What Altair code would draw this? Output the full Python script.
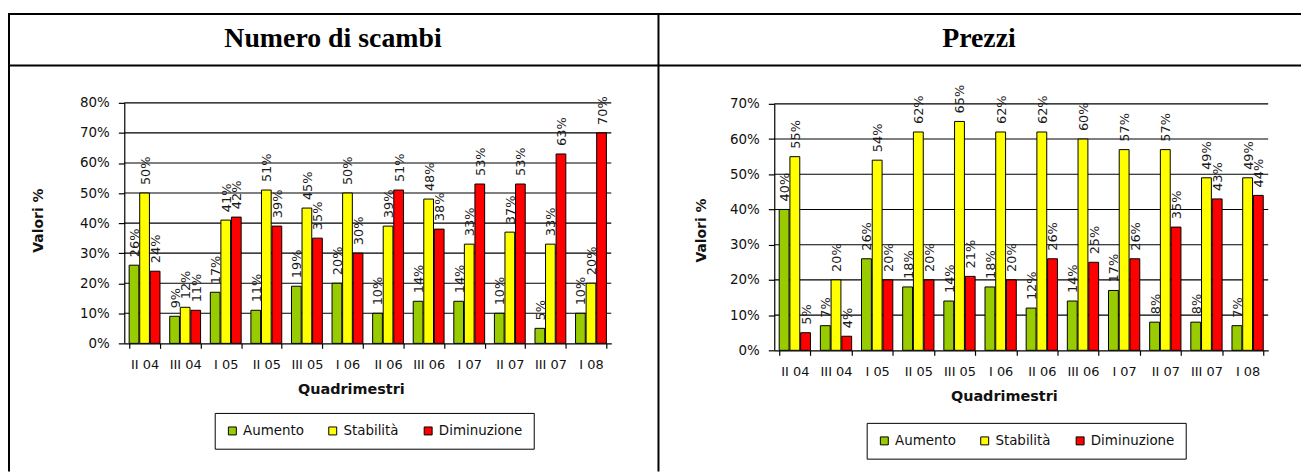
import altair as alt
import pandas as pd

# ---------------- data ----------------
categories = ["II 04", "III 04", "I 05", "II 05", "III 05", "I 06",
              "II 06", "III 06", "I 07", "II 07", "III 07", "I 08"]
series = ["Aumento", "Stabilità", "Diminuzione"]
colors = ["#99CC00", "#FFFF00", "#FF0000"]
panel_titles = ["Numero di scambi", "Prezzi"]
x_title = "Quadrimestri"
y_title = "Valori %"

scambi_aumento = [0.26, 0.09, 0.17, 0.11, 0.19, 0.20, 0.10, 0.14, 0.14, 0.10, 0.05, 0.10]
scambi_stabilita = [0.50, 0.12, 0.41, 0.51, 0.45, 0.50, 0.39, 0.48, 0.33, 0.37, 0.33, 0.20]
scambi_diminuzione = [0.24, 0.11, 0.42, 0.39, 0.35, 0.30, 0.51, 0.38, 0.53, 0.53, 0.63, 0.70]

prezzi_aumento = [0.40, 0.07, 0.26, 0.18, 0.14, 0.18, 0.12, 0.14, 0.17, 0.08, 0.08, 0.07]
prezzi_stabilita = [0.55, 0.20, 0.54, 0.62, 0.65, 0.62, 0.62, 0.60, 0.57, 0.57, 0.49, 0.49]
prezzi_diminuzione = [0.05, 0.04, 0.20, 0.20, 0.21, 0.20, 0.26, 0.25, 0.26, 0.35, 0.43, 0.44]

scambi_ticks = [0.0, 0.1, 0.2, 0.3, 0.4, 0.5, 0.6, 0.7, 0.8]
prezzi_ticks = [0.0, 0.1, 0.2, 0.3, 0.4, 0.5, 0.6, 0.7]


def to_long(a, s, d):
    rows = []
    for vals, name in zip([a, s, d], series):
        for c, v in zip(categories, vals):
            rows.append({"q": c, "serie": name, "v": v})
    return pd.DataFrame(rows)


df_scambi = to_long(scambi_aumento, scambi_stabilita, scambi_diminuzione)
df_prezzi = to_long(prezzi_aumento, prezzi_stabilita, prezzi_diminuzione)

# ---------------- layout ----------------
W, H = 1301, 465
FONT = "DejaVu Sans"
one = pd.DataFrame({"k": [0]})


def panel(df, ticks, x0, x1, ybot, ytop, ymax, ytx, yty, xtx, legx, legy):
    xscale = alt.Scale(domain=categories, range=[x0, x1], paddingInner=0.24, paddingOuter=0.12)
    yscale = alt.Scale(domain=[0, ymax], range=[ybot, ytop], nice=False, zero=True)
    xaxis = alt.Axis(orient="bottom", offset=ybot - H, title=x_title, tickBand="extent",
                     labelAngle=0, tickSize=5, labelPadding=10, labelFontSize=13,
                     titleFontSize=14.5, titleFontWeight="bold", titleX=xtx, titleY=46,
                     titleAlign="center", titleBaseline="middle", domainWidth=1.2, tickWidth=1.2)
    yaxis = alt.Axis(orient="left", offset=-x0, values=ticks, format=".0%", title=y_title,
                     grid=False, tickSize=6, labelPadding=9, labelFontSize=13.5,
                     titleFontSize=14, titleFontWeight="bold", titleX=ytx, titleY=yty,
                     titleAngle=270, titleAlign="center", titleBaseline="middle",
                     domainWidth=1.2, tickWidth=1.2)
    x = alt.X("q:N", scale=xscale, axis=xaxis, sort=categories)
    xo = alt.XOffset("serie:N", scale=alt.Scale(domain=series, paddingInner=0.08), sort=series)
    y = alt.Y("v:Q", scale=yscale, axis=yaxis)
    color = alt.Color("serie:N", scale=alt.Scale(domain=series, range=colors), sort=series,
                      legend=alt.Legend(orient="none", legendX=legx, legendY=legy,
                                        direction="horizontal", title=None,
                                        symbolType="square", symbolSize=64,
                                        symbolStrokeColor="black", symbolStrokeWidth=1,
                                        labelFont=FONT, labelFontSize=13.5, labelColor="#111",
                                        columnPadding=22, padding=11,
                                        strokeColor="black", fillColor="white"))
    grid = alt.Chart(pd.DataFrame({"v": ticks[1:]})).mark_rule(
        color="black", strokeWidth=1.1).encode(x=alt.value(x0), x2=alt.value(x1), y=y)
    bars = alt.Chart(df).mark_bar(stroke="black", strokeWidth=1).encode(
        x=x, xOffset=xo, y=y, color=color)
    labels = alt.Chart(df).mark_text(
        angle=270, align="left", baseline="middle", dx=8, dy=1,
        font=FONT, fontSize=13, color="#1a1a1a").encode(
        x=x, xOffset=xo, y=y, text=alt.Text("v:Q", format=".0%"))
    return alt.layer(grid, bars, labels)


left = panel(df_scambi, scambi_ticks, 117, 607, 336, 94, 0.8, -86, 212, 345, 208, 406)
right = panel(df_prezzi, prezzi_ticks, 771, 1268, 343, 95, 0.7, -73, 222, 1002, 864, 416)

# table frame
def hline(yv):
    return alt.Chart(one).mark_rule(color="black", strokeWidth=2).encode(
        x=alt.value(0), x2=alt.value(W), y=alt.value(yv))


def vline(xv):
    return alt.Chart(one).mark_rule(color="black", strokeWidth=2).encode(
        x=alt.value(xv), y=alt.value(4), y2=alt.value(H))


def title_text(i, xv):
    return alt.Chart(pd.DataFrame({"t": [panel_titles[i]]})).mark_text(
        font="Liberation Serif", fontWeight="bold", fontSize=28, color="black",
        align="center", baseline="middle").encode(
        x=alt.value(xv), y=alt.value(30), text="t:N")


frame = alt.layer(hline(4.5), hline(56.5), vline(1), vline(654.5),
                  title_text(0, 327), title_text(1, 977))

chart = alt.layer(frame, left, right).resolve_scale(
    x="independent", y="independent", color="independent", xOffset="independent"
).resolve_axis(x="independent", y="independent").resolve_legend(
    color="independent"
).properties(
    width=W, height=H, padding=0, autosize=alt.AutoSizeParams(type="none")
).configure_view(strokeWidth=0).configure_axis(
    labelFont=FONT, titleFont=FONT, domainColor="black", tickColor="black",
    labelColor="#111", titleColor="#111"
)

chart.save("out.html", embed_options={"renderer": "svg", "actions": False})
